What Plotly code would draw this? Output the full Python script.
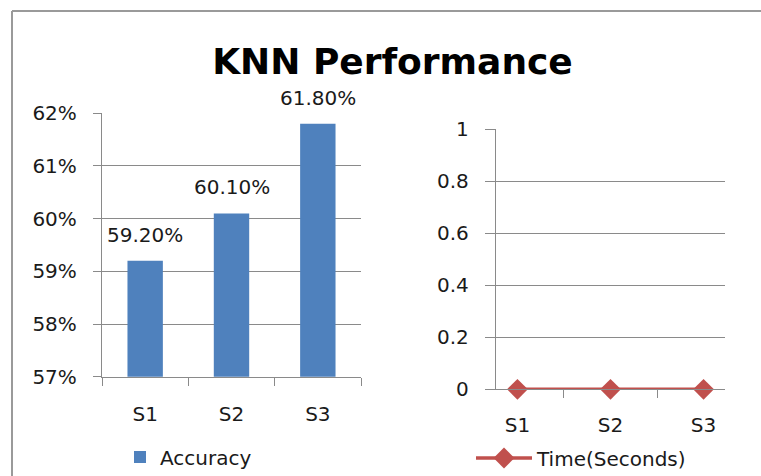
import plotly.graph_objects as go

# ---- data ----
categories = ["S1", "S2", "S3"]
accuracy = [0.592, 0.601, 0.618]
time_seconds = [0, 0, 0]
acc_tickvals = [0.57, 0.58, 0.59, 0.60, 0.61, 0.62]
acc_ticktext = ["57%", "58%", "59%", "60%", "61%", "62%"]
time_tickvals = [0, 0.2, 0.4, 0.6, 0.8, 1.0]
time_ticktext = ["0", "0.2", "0.4", "0.6", "0.8", "1"]
title_text = "KNN Performance"

W, H = 761, 476
FONT = "DejaVu Sans"
TXT = "#1a1a1a"
GRID = "#8a8a8a"
BLUE = "#4F81BD"
RED = "#C0504D"

fig = go.Figure()

fig.add_trace(go.Bar(
    x=categories, y=accuracy, name="Accuracy",
    marker=dict(color=BLUE, line=dict(width=0)),
    xaxis="x", yaxis="y", legend="legend",
))

fig.add_trace(go.Scatter(
    x=categories, y=time_seconds, name="Time(Seconds)",
    mode="lines+markers",
    line=dict(color=RED, width=3.5),
    marker=dict(symbol="diamond", size=16, color=RED),
    cliponaxis=False,
    xaxis="x2", yaxis="y2", legend="legend2",
))

annotations = []
for c, v in zip(categories, accuracy):
    annotations.append(dict(
        x=c, y=v, xref="x", yref="y", text=f"{v*100:.2f}%",
        showarrow=False, yanchor="middle", yshift=26,
        font=dict(family=FONT, size=20, color=TXT),
    ))

axis_common = dict(
    showline=True, linecolor=GRID, linewidth=1.3,
    gridcolor=GRID, gridwidth=1.3,
    ticks="outside", tickcolor=GRID, tickwidth=1.3,
    tickfont=dict(family=FONT, size=20, color=TXT),
    zeroline=False, fixedrange=True, automargin=False,
)

fig.update_layout(
    width=W, height=H,
    margin=dict(l=0, r=0, t=0, b=0, autoexpand=False),
    paper_bgcolor="white", plot_bgcolor="white",
    showlegend=True,
    bargap=0.59,
    title=dict(text=f"<b>{title_text}</b>", x=392.5 / W, xanchor="center",
               y=1 - 61 / H, yanchor="middle",
               font=dict(family=FONT, size=36, color="#000000")),
    xaxis=dict(axis_common, domain=[102 / W, 361 / W], type="category",
               tickson="boundaries", ticklen=8, showgrid=False,
               anchor="y", ticklabelstandoff=19),
    yaxis=dict(axis_common, domain=[(H - 376.7) / H, (H - 113.3) / H],
               range=[0.57, 0.62], tickvals=acc_tickvals, ticktext=acc_ticktext,
               ticklen=8, anchor="x", ticklabelstandoff=12),
    xaxis2=dict(axis_common, domain=[496 / W, 725 / W], type="category",
                tickson="boundaries", ticklen=8, showgrid=False,
                anchor="y2", ticklabelstandoff=18),
    yaxis2=dict(axis_common, domain=[(H - 389.3) / H, (H - 129.3) / H],
                range=[0, 1], tickvals=time_tickvals, ticktext=time_ticktext,
                ticklen=10, anchor="x2", ticklabelstandoff=12),
    legend=dict(x=120 / W, y=1 - 457 / H, xanchor="left", yanchor="middle",
                font=dict(family=FONT, size=20, color=TXT),
                bgcolor="rgba(0,0,0,0)"),
    legend2=dict(x=471 / W, y=1 - 458 / H, xanchor="left", yanchor="middle",
                 itemwidth=56,
                 font=dict(family=FONT, size=20, color=TXT),
                 bgcolor="rgba(0,0,0,0)"),
    annotations=annotations,
    shapes=[
        dict(type="line", xref="paper", yref="paper",
             x0=12 / W, x1=1.01, y0=1 - 11 / H, y1=1 - 11 / H,
             line=dict(color="#9a9a9a", width=2)),
        dict(type="line", xref="paper", yref="paper",
             x0=12 / W, x1=12 / W, y0=1 - 11 / H, y1=-0.01,
             line=dict(color="#9a9a9a", width=2)),
    ],
)

fig.write_html("out.html")
